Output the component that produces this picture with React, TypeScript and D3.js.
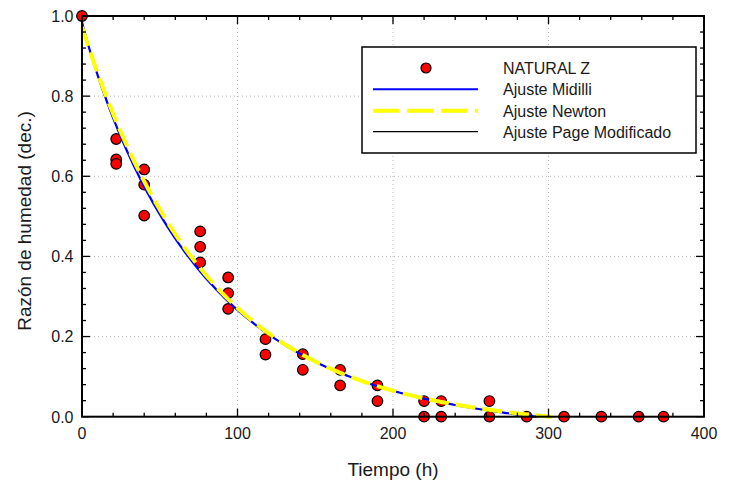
import React from "react";
import * as d3 from "d3";

// Observed data (NATURAL Z)
const timeH = [0, 22, 22, 22, 40, 40, 40, 76, 76, 76, 94, 94, 94, 118, 118, 142, 142, 166, 166, 190, 190, 220, 220, 231, 231, 262, 262, 286, 310, 334, 358, 374];
const moistureRatio = [1.0, 0.693, 0.642, 0.631, 0.617, 0.579, 0.502, 0.4625, 0.424, 0.385, 0.3475, 0.3085, 0.269, 0.1935, 0.155, 0.156, 0.117, 0.117, 0.078, 0.078, 0.039, 0.039, 0, 0.039, 0, 0.039, 0, 0, 0, 0, 0, 0];

// Fit parameters (estimated)
const midilliParams = [0.985, 0.016, 0.95, -0.0001]; // a, k, n, b
const newtonParams = [0.973, 0.0125, -0.000075]; // a, k, b
const pageModParams = [0.985, 0.01287, 0.95, -0.0001]; // a, k, n, b

const xTicks = [0, 100, 200, 300, 400];
const yTicks = [0.0, 0.2, 0.4, 0.6, 0.8, 1.0];
const legendLabels = ["NATURAL Z", "Ajuste Midilli", "Ajuste Newton", "Ajuste Page Modificado"];

const W = 733, H = 484;
const L = 82, R = 704, T = 16, B = 416.7;
const FONT = "'Liberation Sans', Arial, sans-serif";

const midilli = (t: number) => midilliParams[0] * Math.exp(-midilliParams[1] * Math.pow(t, midilliParams[2])) + midilliParams[3] * t;
const newton = (t: number) => newtonParams[0] * Math.exp(-newtonParams[1] * t) + newtonParams[2] * t;
const pageMod = (t: number) => pageModParams[0] * Math.exp(-Math.pow(pageModParams[1] * t, pageModParams[2])) + pageModParams[3] * t;

function curve(f: (t: number) => number) {
  const pts: [number, number][] = [];
  for (let t = 0; t <= 400; t += 1) {
    const v = f(t);
    if (v <= 0) {
      pts.push([t, 0]);
      break;
    }
    pts.push([t, v]);
  }
  return pts;
}

export default function App() {
  const x = d3.scaleLinear().domain([0, 400]).range([L, R]);
  const y = d3.scaleLinear().domain([0, 1]).range([B, T]);
  const line = d3.line<[number, number]>().x(d => x(d[0])).y(d => y(d[1]));

  const xMinor = d3.range(0, 401, 20);
  const yMinor = d3.range(0, 1.0001, 0.04);

  const legX = 362, legY = 47, legW = 334, legH = 106;
  const rows = [68, 89.3, 110.7, 131.7];

  return (
    <svg width={W} height={H} style={{ position: "absolute", left: 0, top: 0, background: "#fff" }} fontFamily={FONT}>
      <rect x={0} y={0} width={W} height={H} fill="#fff" />
      {/* grid */}
      {xTicks.slice(1, -1).map(t => (
        <line key={"gx" + t} x1={x(t)} x2={x(t)} y1={T} y2={B} stroke="#b8b8b8" strokeWidth={1} strokeDasharray="1,3" />
      ))}
      {yTicks.slice(1, -1).map(v => (
        <line key={"gy" + v} x1={L} x2={R} y1={y(v)} y2={y(v)} stroke="#b8b8b8" strokeWidth={1} strokeDasharray="1,3" />
      ))}
      {/* points */}
      {timeH.map((t, i) => (
        <circle key={"p" + i} cx={x(t)} cy={y(moistureRatio[i])} r={5.3} fill="#ff0000" stroke="#000" strokeWidth={1.2} />
      ))}
      {/* curves */}
      <path d={line(curve(pageMod)) || ""} fill="none" stroke="#000" strokeWidth={0.8} />
      <path d={line(curve(midilli)) || ""} fill="none" stroke="#0000ff" strokeWidth={2.2} />
      <path d={line(curve(newton)) || ""} fill="none" stroke="#ffff00" strokeWidth={4} strokeDasharray="20,7" />
      {/* frame */}
      <rect x={L} y={T} width={R - L} height={B - T} fill="none" stroke="#000" strokeWidth={2} />
      {/* ticks */}
      {xMinor.map(t => {
        const major = t % 100 === 0;
        const len = major ? 8 : 4;
        return (
          <g key={"xt" + t}>
            <line x1={x(t)} x2={x(t)} y1={B} y2={B - len} stroke="#000" strokeWidth={1.3} />
            <line x1={x(t)} x2={x(t)} y1={T} y2={T + len} stroke="#000" strokeWidth={1.3} />
          </g>
        );
      })}
      {yMinor.map((v, i) => {
        const major = i % 5 === 0;
        const len = major ? 8 : 4;
        return (
          <g key={"yt" + i}>
            <line x1={L} x2={L + len} y1={y(v)} y2={y(v)} stroke="#000" strokeWidth={1.3} />
            <line x1={R} x2={R - len} y1={y(v)} y2={y(v)} stroke="#000" strokeWidth={1.3} />
          </g>
        );
      })}
      {/* tick labels */}
      {xTicks.map(t => (
        <text key={"xl" + t} x={x(t)} y={439} textAnchor="middle" fontSize={16} fill="#1a1a1a">{t}</text>
      ))}
      {yTicks.map(v => (
        <text key={"yl" + v} x={73.5} y={y(v) + 5.8} textAnchor="end" fontSize={16} fill="#1a1a1a">{v.toFixed(1)}</text>
      ))}
      {/* axis titles */}
      <text x={393} y={476} textAnchor="middle" fontSize={19} fill="#1a1a1a">Tiempo (h)</text>
      <text transform={`translate(31,221) rotate(-90)`} textAnchor="middle" fontSize={19} fill="#1a1a1a">Razón de humedad (dec.)</text>
      {/* legend */}
      <rect x={legX} y={legY} width={legW} height={legH} fill="#fff" stroke="#000" strokeWidth={1.5} />
      <circle cx={426} cy={rows[0]} r={5} fill="#ff0000" stroke="#000" strokeWidth={1.2} />
      <line x1={373} x2={478} y1={rows[1]} y2={rows[1]} stroke="#0000ff" strokeWidth={2} />
      <line x1={373} x2={478} y1={rows[2]} y2={rows[2]} stroke="#ffff00" strokeWidth={4} strokeDasharray="26,8" />
      <line x1={373} x2={478} y1={rows[3]} y2={rows[3]} stroke="#000" strokeWidth={1.2} />
      {legendLabels.map((lab, i) => (
        <text key={"lg" + i} x={503} y={rows[i] + 5.8} fontSize={16} fill="#1a1a1a">{lab}</text>
      ))}
    </svg>
  );
}
